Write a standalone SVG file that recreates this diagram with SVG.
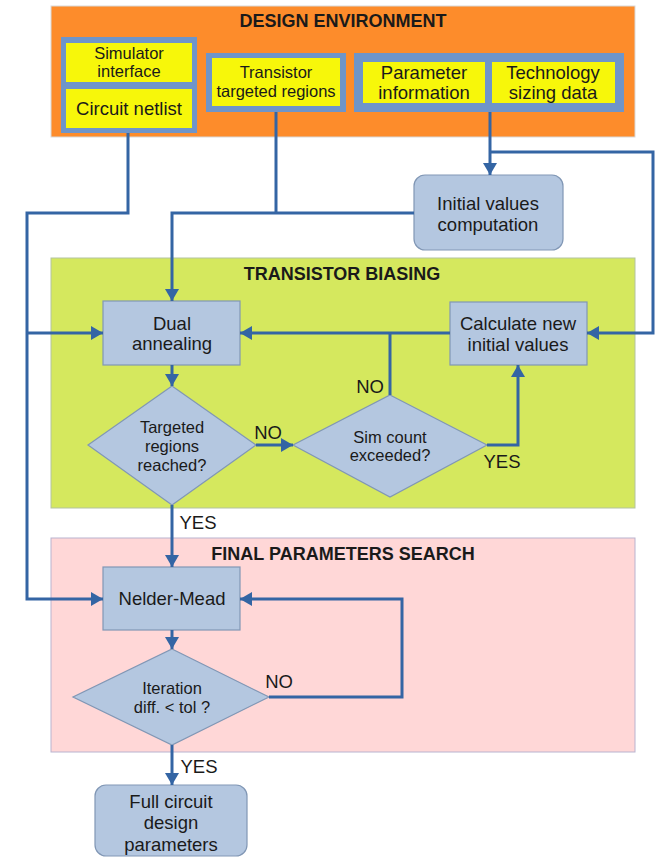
<svg xmlns="http://www.w3.org/2000/svg" width="659" height="858" viewBox="0 0 659 858">
<defs>
<marker id="arr" markerUnits="userSpaceOnUse" markerWidth="14" markerHeight="14" refX="12" refY="7" orient="auto">
<path d="M0,0 L12,7 L0,14 Z" fill="#3465a4"/>
</marker>
<style>
.t{font-family:"Liberation Sans",Arial,sans-serif;fill:#1a1a1a;text-anchor:middle}
.b{font-size:18.5px}
.s{font-size:16.5px}
.h{font-size:18px;font-weight:bold}
.grp{fill:#6f95c9}
.yel{fill:#f7f70a}
.node{fill:#b4c7e0;stroke:#8197b5;stroke-width:1.2}
.con{fill:none;stroke:#3465a4;stroke-width:3}
</style>
</defs>
<rect width="659" height="858" fill="#ffffff"/>

<g id="design-environment">
<rect x="51" y="6" width="584" height="131" fill="#fd8c2b" stroke="#d9d9d9" stroke-width="1"/>
<text class="t h" x="343" y="27">DESIGN ENVIRONMENT</text>
</g>
<g id="transistor-biasing">
<rect x="51" y="258" width="584" height="250" fill="#d5e85e" stroke="#b3c3a0" stroke-width="1"/>
<text class="t h" x="342" y="279.5">TRANSISTOR BIASING</text>
</g>
<g id="final-parameters-search">
<rect x="51" y="538" width="584" height="214" fill="#ffd7d7" stroke="#b9b3cf" stroke-width="1"/>
<text class="t h" x="343" y="559.5">FINAL PARAMETERS SEARCH</text>
</g>

<g id="sim-netlist-group">
<rect class="grp" x="61" y="37" width="136" height="96"/>
<g id="simulator-interface">
<rect class="yel" x="66" y="43" width="126" height="39"/>
<text class="t s" x="129" y="58.5">Simulator</text>
<text class="t s" x="129" y="76.5">interface</text>
</g>
<g id="circuit-netlist">
<rect class="yel" x="66" y="89" width="126" height="39"/>
<text class="t b" x="129" y="114.5">Circuit netlist</text>
</g>
</g>

<g id="transistor-targeted-regions">
<rect class="grp" x="206" y="53" width="140" height="59"/>
<rect class="yel" x="212" y="58" width="128" height="48"/>
<text class="t s" x="276" y="77.5">Transistor</text>
<text class="t s" x="276" y="96.5">targeted regions</text>
</g>

<g id="param-tech-group">
<rect class="grp" x="354" y="53" width="270" height="59"/>
<g id="parameter-information">
<rect class="yel" x="363" y="62" width="122" height="41"/>
<text class="t b" x="424" y="78.5">Parameter</text>
<text class="t b" x="424" y="98.5">information</text>
</g>
<g id="technology-sizing-data">
<rect class="yel" x="492" y="62" width="123" height="41"/>
<text class="t b" x="553" y="78.5">Technology</text>
<text class="t b" x="553" y="98.5">sizing data</text>
</g>
</g>

<g id="initial-values">
<rect class="node" x="414" y="175" width="149" height="75" rx="11"/>
<text class="t b" x="488" y="209.5">Initial values</text>
<text class="t b" x="488" y="230.5">computation</text>
</g>

<g id="dual-annealing">
<rect class="node" x="103" y="301" width="137" height="64"/>
<text class="t b" x="172" y="329.5">Dual</text>
<text class="t b" x="172" y="349.5">annealing</text>
</g>

<g id="calculate-new">
<rect class="node" x="450" y="302" width="137" height="63"/>
<text class="t b" x="518" y="329.5">Calculate new</text>
<text class="t b" x="518" y="350.5">initial values</text>
</g>

<g id="targeted-reached">
<polygon class="node" points="172,386 256,445 172,505 88,445"/>
<text class="t s" x="172" y="432.5">Targeted</text>
<text class="t s" x="172" y="451.5">regions</text>
<text class="t s" x="172" y="470.5">reached?</text>
</g>

<g id="sim-count">
<polygon class="node" points="390,395 487,445 390,497 293,445"/>
<text class="t s" x="390" y="442.5">Sim count</text>
<text class="t s" x="390" y="460.5">exceeded?</text>
</g>

<g id="nelder-mead">
<rect class="node" x="103" y="567" width="137" height="63"/>
<text class="t b" x="172" y="605">Nelder-Mead</text>
</g>

<g id="iteration">
<polygon class="node" points="172,649 269,697 172,745 73,697"/>
<text class="t s" x="172" y="693.5">Iteration</text>
<text class="t s" x="172" y="712.5">diff. &lt; tol ?</text>
</g>

<g id="full-circuit">
<rect class="node" x="95" y="785" width="152" height="71" rx="11"/>
<text class="t b" x="171" y="808">Full circuit</text>
<text class="t b" x="171" y="829">design</text>
<text class="t b" x="171" y="851">parameters</text>
</g>

<g id="connectors">
<path class="con" d="M128,133 V213 H27 V599 H103" marker-end="url(#arr)"/>
<path class="con" d="M27,333 H103" marker-end="url(#arr)"/>
<path class="con" d="M276,112 V213"/>
<path class="con" d="M414,213 H172 V301" marker-end="url(#arr)"/>
<path class="con" d="M490,112 V175" marker-end="url(#arr)"/>
<path class="con" d="M490,152 H653 V333 H587" marker-end="url(#arr)"/>
<path class="con" d="M450,333 H240" marker-end="url(#arr)"/>
<path class="con" d="M390,333 V395"/>
<path class="con" d="M172,365 V386" marker-end="url(#arr)"/>
<path class="con" d="M256,445 H293" marker-end="url(#arr)"/>
<path class="con" d="M487,445 H518 V365" marker-end="url(#arr)"/>
<path class="con" d="M172,505 V567" marker-end="url(#arr)"/>
<path class="con" d="M172,630 V649" marker-end="url(#arr)"/>
<path class="con" d="M269,697 H402 V599 H240" marker-end="url(#arr)"/>
<path class="con" d="M172,745 V785" marker-end="url(#arr)"/>
</g>

<g id="labels">
<text class="t b" x="268" y="439">NO</text>
<text class="t b" x="370" y="393">NO</text>
<text class="t b" x="502" y="468">YES</text>
<text class="t b" x="198" y="529">YES</text>
<text class="t b" x="279" y="688">NO</text>
<text class="t b" x="199" y="773">YES</text>
</g>
</svg>
